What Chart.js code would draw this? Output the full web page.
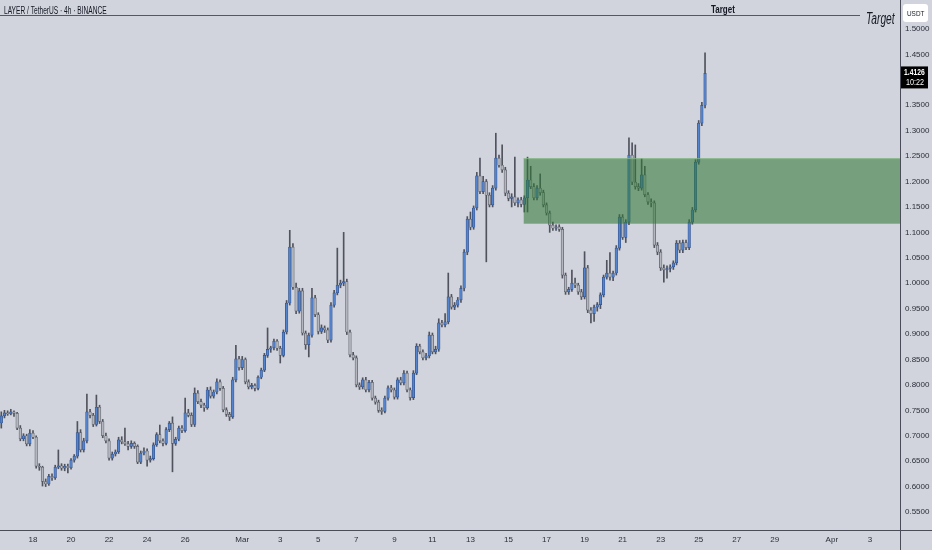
<!DOCTYPE html>
<html>
<head>
<meta charset="utf-8">
<script src="https://cdn.jsdelivr.net/npm/chart.js@4.4.1/dist/chart.umd.min.js"></script>
<style>
html, body { margin: 0; padding: 0; background: #d1d4dc; }
#wrap { position: relative; width: 932px; height: 550px; }
</style>
</head>
<body>
<div id="wrap"><canvas id="chart" width="932" height="550"></canvas></div>
<script>
// LAYER / USDT 4h candles, Feb 16 08:00 -> Mar 25 08:00
const opens = [
	.725, .739, .745, .743, .747, .744, .715, .694, .700, .684,
	.705, .697, .640, .638, .610, .605, .620, .617, .638, .641,
	.636, .640, .637, .652, .660, .706, .672, .690, .747, .740,
	.722, .756, .728, .700, .690, .656, .664, .668, .692, .688,
	.684, .679, .685, .679, .648, .666, .670, .652, .655, .682,
	.702, .690, .685, .712, .725, .685, .693, .715, .710, .745,
	.740, .722, .784, .767, .760, .755, .790, .778, .786, .806,
	.793, .751, .742, .737, .810, .851, .834, .850, .806, .796,
	.799, .793, .815, .829, .858, .870, .873, .886, .872, .858,
	.904, .961, 1.071, .992, .945, .985, .902, .879, .898, .971,
	.938, .905, .912, .908, .888, .957, .981, .996, 1.000, 1.003,
	.904, .859, .853, .800, .796, .810, .790, .805, .774, .766,
	.750, .748, .774, .794, .790, .776, .810, .804, .823, .790,
	.775, .823, .876, .865, .853, .857, .898, .865, .870, .922,
	.918, .924, .973, .953, .957, .967, .990, 1.061, 1.126, 1.110,
	1.148, 1.211, 1.180, 1.200, 1.173, 1.154, 1.187, 1.246, 1.232, 1.223,
	1.177, 1.167, 1.170, 1.158, 1.164, 1.155, 1.168, 1.203, 1.190, 1.168,
	1.187, 1.178, 1.154, 1.138, 1.114, 1.108, 1.111, 1.106, 1.016, .983,
	.988, 1.000, .996, .983, .973, 1.030, .947, .940, .953, .958,
	.977, 1.012, 1.020, 1.012, 1.020, 1.069, 1.130, 1.090, 1.120, 1.252,
	1.199, 1.190, 1.187, 1.213, 1.174, 1.160, 1.158, 1.075, 1.061, 1.030,
	1.026, 1.029, 1.032, 1.040, 1.079, 1.065, 1.080, 1.070, 1.120, 1.144,
	1.238, 1.315, 1.350,
];
const highs = [
	.747, .750, .749, .752, .749, .746, .720, .704, .703, .712,
	.710, .700, .645, .640, .615, .624, .625, .642, .672, .645,
	.644, .644, .655, .663, .728, .712, .695, .782, .752, .744,
	.780, .760, .732, .705, .694, .668, .672, .697, .698, .715,
	.689, .690, .688, .682, .670, .676, .674, .660, .686, .706,
	.721, .694, .716, .728, .737, .697, .719, .720, .774, .752,
	.745, .794, .789, .772, .764, .795, .796, .790, .812, .810,
	.797, .755, .746, .815, .878, .856, .856, .853, .810, .803,
	.802, .818, .833, .862, .912, .876, .890, .889, .876, .908,
	.966, 1.104, 1.078, 1.000, .990, .990, .906, .902, .990, .976,
	.942, .918, .916, .912, .962, .986, 1.069, 1.006, 1.100, 1.008,
	.908, .864, .857, .804, .814, .815, .809, .809, .778, .770,
	.755, .778, .798, .799, .794, .814, .815, .828, .827, .794,
	.828, .881, .880, .869, .862, .904, .902, .876, .930, .927,
	.940, 1.020, .978, .962, .972, .995, 1.066, 1.131, 1.140, 1.152,
	1.218, 1.246, 1.210, 1.204, 1.178, 1.192, 1.295, 1.252, 1.272, 1.228,
	1.182, 1.176, 1.248, 1.168, 1.169, 1.172, 1.248, 1.230, 1.196, 1.192,
	1.215, 1.183, 1.158, 1.142, 1.120, 1.115, 1.115, 1.110, 1.020, .992,
	1.026, 1.010, 1.000, .988, 1.062, 1.035, .952, .957, .962, .981,
	1.016, 1.045, 1.060, 1.024, 1.074, 1.135, 1.135, 1.125, 1.286, 1.276,
	1.272, 1.196, 1.245, 1.230, 1.178, 1.166, 1.162, 1.080, 1.066, 1.036,
	1.034, 1.036, 1.044, 1.084, 1.084, 1.085, 1.085, 1.125, 1.149, 1.243,
	1.320, 1.356, 1.453,
];
const lows = [
	.715, .735, .740, .741, .738, .712, .690, .690, .680, .680,
	.694, .636, .632, .601, .600, .602, .612, .614, .635, .632,
	.631, .627, .634, .648, .656, .668, .668, .686, .735, .718,
	.719, .724, .696, .686, .652, .652, .660, .665, .684, .681,
	.672, .675, .675, .645, .645, .662, .640, .648, .652, .679,
	.686, .680, .682, .708, .629, .681, .690, .706, .707, .737,
	.718, .718, .763, .755, .748, .752, .774, .774, .782, .789,
	.747, .738, .730, .734, .806, .829, .830, .802, .792, .792,
	.788, .790, .812, .826, .854, .864, .869, .868, .843, .855,
	.900, .957, .988, .940, .941, .898, .870, .855, .894, .934,
	.900, .901, .903, .883, .884, .953, .977, .991, .995, .899,
	.855, .849, .796, .791, .792, .786, .786, .770, .762, .746,
	.742, .745, .770, .786, .772, .772, .800, .800, .786, .770,
	.771, .820, .861, .849, .849, .853, .861, .861, .866, .914,
	.914, .920, .949, .948, .953, .962, .985, 1.056, 1.105, 1.106,
	1.144, 1.176, 1.176, 1.042, 1.150, 1.150, 1.183, 1.228, 1.218, 1.172,
	1.162, 1.150, 1.153, 1.150, 1.150, 1.140, 1.140, 1.186, 1.164, 1.164,
	1.173, 1.150, 1.134, 1.100, 1.104, 1.104, 1.102, 1.010, .978, .978,
	.984, .991, .978, .968, .969, .942, .922, .925, .945, .950,
	.973, 1.008, 1.006, 1.005, 1.016, 1.065, 1.086, 1.080, 1.115, 1.194,
	1.185, 1.182, 1.183, 1.170, 1.155, 1.150, 1.070, 1.056, 1.025, 1.002,
	1.010, 1.022, 1.027, 1.036, 1.060, 1.060, 1.066, 1.066, 1.116, 1.140,
	1.234, 1.310, 1.345,
];
const closes = [
	.739, .745, .743, .747, .744, .715, .694, .700, .684, .705,
	.697, .640, .638, .610, .605, .620, .617, .638, .641, .636,
	.640, .637, .652, .660, .706, .672, .690, .747, .740, .722,
	.756, .728, .700, .690, .656, .664, .668, .692, .688, .684,
	.679, .685, .679, .648, .666, .670, .652, .655, .682, .702,
	.690, .685, .712, .725, .685, .693, .715, .710, .745, .740,
	.722, .784, .767, .760, .755, .790, .778, .786, .806, .793,
	.751, .742, .737, .810, .851, .834, .850, .806, .796, .799,
	.793, .815, .829, .858, .870, .873, .886, .872, .858, .904,
	.961, 1.071, .992, .945, .985, .902, .879, .898, .971, .938,
	.905, .912, .908, .888, .957, .981, .996, 1.000, 1.003, .904,
	.859, .853, .800, .796, .810, .790, .805, .774, .766, .750,
	.748, .774, .794, .790, .776, .810, .804, .823, .790, .775,
	.823, .876, .865, .853, .857, .898, .865, .870, .922, .918,
	.924, .973, .953, .957, .967, .990, 1.061, 1.126, 1.110, 1.148,
	1.211, 1.180, 1.200, 1.173, 1.154, 1.187, 1.246, 1.232, 1.223, 1.177,
	1.167, 1.170, 1.158, 1.164, 1.155, 1.168, 1.203, 1.190, 1.168, 1.187,
	1.178, 1.154, 1.138, 1.114, 1.108, 1.111, 1.106, 1.016, .983, .988,
	1.000, .996, .983, .973, 1.030, .947, .940, .953, .958, .977,
	1.012, 1.020, 1.012, 1.020, 1.069, 1.130, 1.090, 1.120, 1.252, 1.199,
	1.190, 1.187, 1.213, 1.174, 1.160, 1.158, 1.075, 1.061, 1.030, 1.026,
	1.029, 1.032, 1.040, 1.079, 1.065, 1.080, 1.070, 1.120, 1.144, 1.238,
	1.315, 1.350, 1.4126,
];

// time axis in days counted from Feb 0 (Mar 1 = 29, Apr 1 = 60)
const firstCandleDay = 16 + 8 / 24;
const xTickDays = [18, 20, 22, 24, 26, 29, 31, 33, 35, 37, 39, 41, 43, 45, 47, 49, 51, 53, 55, 57, 60, 62];
const xTickLabels = ['18', '20', '22', '24', '26', 'Mar', '3', '5', '7', '9', '11', '13', '15', '17', '19', '21', '23', '25', '27', '29', 'Apr', '3'];
const yTicks = [0.55, 0.6, 0.65, 0.7, 0.75, 0.8, 0.85, 0.9, 0.95, 1.0, 1.05, 1.1, 1.15, 1.2, 1.25, 1.3, 1.35, 1.45, 1.5];

// drawings
const targetPrice = 1.5275;
const zoneTop = 1.246;
const zoneBottom = 1.117;
const zoneStartDay = 43.8;
const lastPrice = 1.4126;
const countdown = '10:22';

const FONT = "'Liberation Sans', sans-serif";
const TEXT = '#131722';

const days = closes.map((_, i) => firstCandleDay + i / 6);
const up = closes.map((c, i) => c >= opens[i]);

// the screenshot's UI font is a narrow one; squeeze plain text horizontally
function narrowText(ctx, text, x, y, squeeze) {
	ctx.save();
	ctx.translate(x, y);
	ctx.scale(squeeze, 1);
	ctx.fillText(text, 0, 0);
	ctx.restore();
}

const overlay = {
	id: 'overlay',
	afterDatasetsDraw(chart) {
		const { ctx, chartArea: area, scales: { x, y } } = chart;
		ctx.save();
		// demand/supply zone, semi-transparent over the candles
		const zx = x.getPixelForValue(zoneStartDay);
		const zt = y.getPixelForValue(zoneTop);
		const zb = y.getPixelForValue(zoneBottom);
		ctx.fillStyle = 'rgba(50,120,55,0.57)';
		ctx.fillRect(zx, zt, area.right - zx, zb - zt);
		ctx.fillStyle = 'rgba(150,195,150,0.7)';
		ctx.fillRect(zx, zt, area.right - zx, 1);

		// target line + labels
		const ty = Math.round(y.getPixelForValue(targetPrice)) + 0.5;
		ctx.strokeStyle = '#3d56a6';
		ctx.lineWidth = 1;
		ctx.beginPath();
		ctx.moveTo(area.left, ty);
		ctx.lineTo(860, ty);
		ctx.stroke();
		ctx.fillStyle = TEXT;
		ctx.textAlign = 'left';
		ctx.textBaseline = 'alphabetic';
		ctx.font = `bold 10px ${FONT}`;
		narrowText(ctx, 'Target', 711, ty - 3, 0.8);
		ctx.font = `italic 16px ${FONT}`;
		narrowText(ctx, 'Target', 866, ty + 8, 0.64);
		ctx.font = `10px ${FONT}`;
		narrowText(ctx, 'LAYER / TetherUS \u00b7 4h \u00b7 BINANCE', 4, ty - 2, 0.66);
		ctx.restore();
	},
	afterDraw(chart) {
		const { ctx, chartArea: area, scales: { y } } = chart;
		ctx.save();
		// pane borders run the full canvas
		ctx.strokeStyle = '#4a4d57';
		ctx.lineWidth = 1;
		ctx.beginPath();
		ctx.moveTo(area.right + 0.5, 0);
		ctx.lineTo(area.right + 0.5, chart.height);
		ctx.moveTo(0, area.bottom + 0.5);
		ctx.lineTo(chart.width, area.bottom + 0.5);
		ctx.stroke();

		// currency badge
		ctx.fillStyle = '#ffffff';
		ctx.beginPath();
		ctx.roundRect(903, 4, 25, 18, 3);
		ctx.fill();
		ctx.fillStyle = TEXT;
		ctx.font = `8px ${FONT}`;
		ctx.textAlign = 'left';
		ctx.textBaseline = 'middle';
		narrowText(ctx, 'USDT', 907, 13.5, 0.8);

		// last price label
		const py = y.getPixelForValue(lastPrice);
		ctx.fillStyle = '#000000';
		ctx.fillRect(area.right + 1, py - 7, 27, 22);
		ctx.fillStyle = '#ffffff';
		ctx.font = `bold 9px ${FONT}`;
		narrowText(ctx, lastPrice.toFixed(4), area.right + 4, py - 0.5, 0.75);
		ctx.font = `9px ${FONT}`;
		narrowText(ctx, countdown, area.right + 6, py + 9.5, 0.8);
		ctx.restore();
	},
};

new Chart(document.getElementById('chart'), {
	type: 'bar',
	data: {
		datasets: [
			{
				label: 'wick',
				data: days.map((d, i) => ({ x: d, y: [lows[i], highs[i]] })),
				backgroundColor: '#50535d',
				barThickness: 1,
				grouped: false,
				order: 2,
			},
			{
				label: 'body',
				data: days.map((d, i) => ({ x: d, y: [opens[i], closes[i]] })),
				backgroundColor: up.map(u => u ? '#5584cf' : '#b3b6be'),
				borderColor: up.map(u => u ? '#33528a' : '#5b5e68'),
				borderWidth: 0.7,
				borderSkipped: false,
				barThickness: 2.6,
				minBarLength: 1,
				grouped: false,
				order: 1,
			},
		],
	},
	options: {
		responsive: false,
		devicePixelRatio: 1,
		animation: false,
		layout: { padding: 0 },
		plugins: { legend: { display: false }, tooltip: { enabled: false } },
		scales: {
			x: {
				type: 'linear',
				offset: false,
				min: 16.265,
				max: 16.265 + 900 / 19.02,
				grid: { display: false, drawTicks: false },
				border: { display: true, color: '#4a4d57' },
				ticks: {
					autoSkip: false,
					maxRotation: 0,
					padding: 5,
					color: '#2a2e39',
					font: { family: FONT, size: 8 },
					callback: v => xTickLabels[xTickDays.indexOf(v)] ?? '',
				},
				afterBuildTicks: s => { s.ticks = xTickDays.map(v => ({ value: v })); },
				afterFit: s => { s.height = 20; s.paddingLeft = 0; s.paddingRight = 0; },
			},
			y: {
				position: 'right',
				min: 1.5 - 501 / 508.4,
				max: 1.5 + 29 / 508.4,
				grid: { display: false, drawTicks: false },
				border: { display: true, color: '#4a4d57' },
				ticks: {
					padding: 5,
					color: '#2a2e39',
					font: { family: FONT, size: 8 },
					callback: v => v.toFixed(4),
				},
				afterBuildTicks: s => { s.ticks = yTicks.map(v => ({ value: v })); },
				afterFit: s => { s.width = 32; s.paddingTop = 0; s.paddingBottom = 0; },
			},
		},
	},
	plugins: [overlay],
});
</script>
</body>
</html>
